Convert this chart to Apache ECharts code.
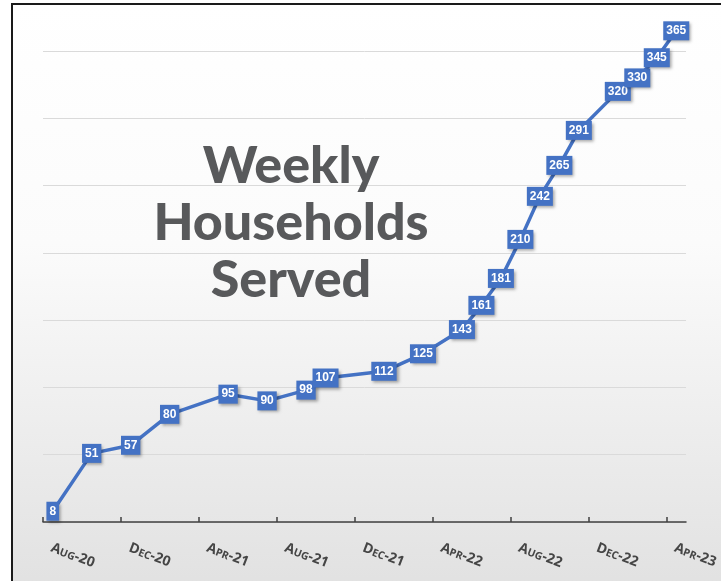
<!DOCTYPE html>
<html>
<head>
<meta charset="utf-8">
<title>Weekly Households Served</title>
<script src="https://cdn.jsdelivr.net/npm/echarts@6/dist/echarts.min.js"></script>
<style>
  html, body { margin: 0; padding: 0; background: #fff; }
  #chart { width: 721px; height: 581px; }
</style>
</head>
<body>
<div id="chart"></div>
<script>
// data (one point per month)
const months = ['Aug-20', 'Oct-20', 'Dec-20', 'Feb-21', 'May-21', 'Jul-21', 'Sep-21', 'Oct-21',
  'Jan-22', 'Mar-22', 'May-22', 'Jun-22', 'Jul-22', 'Aug-22', 'Sep-22', 'Oct-22', 'Nov-22',
  'Jan-23', 'Feb-23', 'Mar-23', 'Apr-23'];
const households = [8, 51, 57, 80, 95, 90, 98, 107, 112, 125, 143, 161, 181, 210, 242, 265, 291,
  320, 330, 345, 365];
// axis labels, one every 4 months
const tickLabels = ['Aug-20', 'Dec-20', 'Apr-21', 'Aug-21', 'Dec-21', 'Apr-22', 'Aug-22', 'Dec-22', 'Apr-23'];
const monthNames = ['Jan', 'Feb', 'Mar', 'Apr', 'May', 'Jun', 'Jul', 'Aug', 'Sep', 'Oct', 'Nov', 'Dec'];

// month count from Aug-20 (Excel style date axis, base unit = month)
function monthIndex(label) {
  const [m, y] = label.split('-');
  return (Number(y) - 20) * 12 + monthNames.indexOf(m) - 7;
}
const tickValues = tickLabels.map(monthIndex);

// "Aug-20" -> small caps look
function smallCaps(label) {
  const [m, y] = label.split('-');
  return '{a|' + m[0] + '}{b|' + m.slice(1).toUpperCase() + '}{a|-' + y + '}';
}

let chart = echarts.init(document.getElementById('chart'));

chart.setOption({
  animation: false,
  graphic: [
    {
      type: 'rect',
      z: -10,
      silent: true,
      shape: { x: 12, y: 4, width: 720, height: 600 },
      style: {
        fill: new echarts.graphic.LinearGradient(0, 0, 0, 1, [
          { offset: 0, color: '#ffffff' },
          { offset: 0.4, color: '#fbfbfb' },
          { offset: 1, color: '#e0e0e0' }
        ]),
        stroke: '#1a1a1a',
        lineWidth: 2
      }
    },
    {
      type: 'text',
      z: 5,
      silent: true,
      style: {
        text: 'Weekly\nHouseholds\nServed',
        x: 291,
        y: 223,
        align: 'center',
        verticalAlign: 'middle',
        fill: '#58595b',
        fontFamily: 'Lato',
        fontWeight: 900,
        fontSize: 52,
        lineHeight: 57
      }
    }
  ],
  grid: {
    left: 43,
    right: 35,
    top: 51,
    bottom: 59,
    outerBoundsMode: 'none'
  },
  xAxis: {
    type: 'value',
    min: 0,
    max: 33,
    interval: 4,
    axisLine: { lineStyle: { color: '#404040', width: 1.5 } },
    axisTick: {
      inside: true,
      length: 5,
      customValues: tickValues,
      lineStyle: { color: '#404040', width: 1.5 }
    },
    splitLine: { show: false },
    axisLabel: {
      customValues: tickValues,
      rotate: -21,
      margin: 22,
      padding: [0, 0, 0, 9],
      formatter: (v) => {
        const i = tickValues.indexOf(v);
        return i < 0 ? '' : smallCaps(tickLabels[i]);
      },
      rich: {
        a: { fontFamily: 'Open Sans', fontWeight: 'bold', fontSize: 14, color: '#454545', verticalAlign: 'bottom' },
        b: { fontFamily: 'Open Sans', fontWeight: 'bold', fontSize: 10.5, color: '#454545', verticalAlign: 'bottom' }
      }
    }
  },
  yAxis: {
    type: 'value',
    min: 0,
    max: 350,
    interval: 50,
    axisLine: { show: false },
    axisTick: { show: false },
    axisLabel: { show: false },
    splitLine: { lineStyle: { color: '#dadada', width: 1 } }
  },
  series: [
    {
      type: 'line',
      clip: false,
      z: 10,
      symbol: 'rect',
      symbolSize: 1,
      data: months.map((m, i) => [monthIndex(m) + 0.5, households[i]]),
      itemStyle: { color: '#4472c4' },
      lineStyle: { color: '#4472c4', width: 3.5 },
      label: {
        show: true,
        position: 'inside',
        formatter: (p) => p.value[1],
        color: '#ffffff',
        fontFamily: 'Liberation Sans',
        fontWeight: 'bold',
        fontSize: 12,
        backgroundColor: '#4472c4',
        padding: [4, 3, 3, 3],
        shadowColor: 'rgba(0,0,0,0.35)',
        shadowBlur: 3,
        shadowOffsetX: 2,
        shadowOffsetY: 2
      }
    }
  ]
});
</script>
</body>
</html>
